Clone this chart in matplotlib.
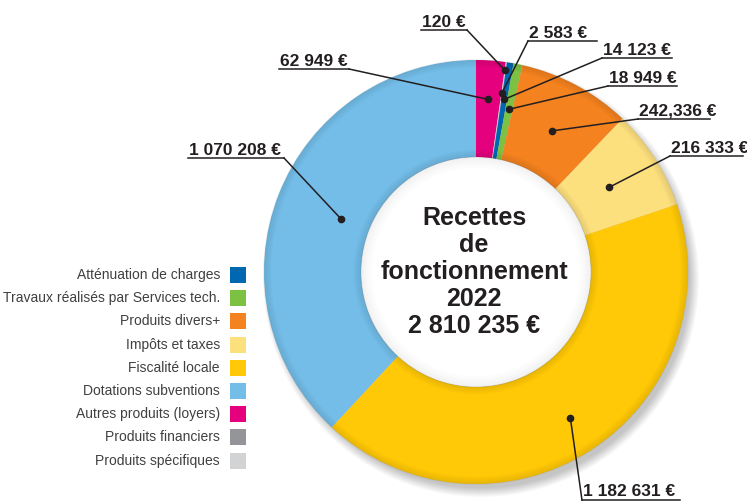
import matplotlib
matplotlib.use("Agg")
import matplotlib.pyplot as plt
import numpy as np

### data (legend order)
legend_labels = ["Atténuation de charges", "Travaux réalisés par Services tech.",
                 "Produits divers+", "Impôts et taxes", "Fiscalité locale",
                 "Dotations subventions", "Autres produits (loyers)",
                 "Produits financiers", "Produits spécifiques"]
values = [14123, 18949, 242336, 216333, 1182631, 1070208, 62949, 120, 2583]
value_labels = ["14 123 €", "18 949 €", "242,336 €", "216 333 €", "1 182 631 €",
                "1 070 208 €", "62 949 €", "120 €", "2 583 €"]
colors = ["#0067b1", "#7cc142", "#f3821f", "#fde07e", "#ffc907",
          "#73bde8", "#e5007d", "#939598", "#d1d3d4"]
# clockwise from the top of the ring
pie_order = [6, 7, 8, 0, 1, 2, 3, 4, 5]
title = "Recettes\nde\nfonctionnement\n2022\n2 810 235 €"

W, H = 747, 503
cx, cy = 476, H - 272
R, ring = 212, 97

# label layout: underline x0, x1, y (pixels from top), end joined to the leader, dot radius
label_pos = [(602, 672, 58, "left", 175), (608, 677, 86, "left", 166),
             (638, 710, 119, "left", 160), (670, 743, 156, "left", 158),
             (582, 680, 500, "left", 174), (188, 284, 158, "right", 145),
             (279, 349, 69, "right", 173), (421, 467, 30, "right", 204),
             (528, 597, 41, "left", 181)]

fig = plt.figure(figsize=(W / 100, H / 100), dpi=100)
ax = fig.add_axes([0, 0, 1, 1])

# soft drop shadow
for k in range(10):
    sh = plt.Circle((cx + 5, cy - 7), R + 6 - k, color="black", alpha=0.025, lw=0)
    ax.add_patch(sh)
ax.add_patch(plt.Circle((cx, cy), R - ring, color="white", lw=0, zorder=1))

wedges, _ = ax.pie([values[i] for i in pie_order], colors=[colors[i] for i in pie_order],
                   startangle=90, counterclock=False, center=(cx, cy), radius=R,
                   wedgeprops=dict(width=ring, edgecolor="none"))
for w in wedges:
    w.set_zorder(2)

# bevel: darker at the outer and inner rims
for k in range(8):
    a = 0.035
    ax.add_patch(plt.Circle((cx, cy), R - k, fill=False, ec="black", lw=1.0, alpha=a * (8 - k) / 4, zorder=3))
    ax.add_patch(plt.Circle((cx, cy), R - ring + k, fill=False, ec="black", lw=1.0, alpha=a * (8 - k) / 4, zorder=3))
# shadow inside the hole
for k in range(12):
    ax.add_patch(plt.Circle((cx, cy), R - ring - k, fill=False, ec="black", lw=1.0,
                            alpha=0.04 * (12 - k) / 12, zorder=3))

# value labels with leader lines
for w, i in zip(wedges, pie_order):
    x0, x1, yu, side, r = label_pos[i]
    ang = np.deg2rad((w.theta1 + w.theta2) / 2)
    dx, dy = cx + r * np.cos(ang), cy + r * np.sin(ang)
    yl = H - yu
    ex = x0 if side == "left" else x1
    ax.plot([x0, x1], [yl, yl], color="#231f20", lw=1.1, zorder=4)
    ax.plot([ex, dx], [yl, dy], color="#231f20", lw=1.1, zorder=4)
    ax.plot(dx, dy, "o", color="#231f20", ms=4.5, zorder=5)
    ax.text(x0 + 1, yl + 3.5, value_labels[i], fontsize=12.5, fontweight="bold",
            family="Liberation Sans", color="#231f20", ha="left", va="baseline", zorder=5)

ax.text(cx - 2, cy, title, fontsize=18, fontweight="bold", family="Liberation Sans",
        color="#231f20", ha="center", va="center", linespacing=1.15, zorder=5)

# legend
for n, lab in enumerate(legend_labels):
    yc = H - (275 + n * 23.2)
    ax.add_patch(plt.Rectangle((230, yc - 8), 16, 16, color=colors[n], lw=0))
    ax.text(220, yc, lab, fontsize=10, family="Liberation Sans", color="#404040",
            ha="right", va="center")

ax.set_xlim(0, W)
ax.set_ylim(0, H)
ax.set_aspect("equal")
ax.axis("off")
fig.savefig("out.png", dpi=100)
